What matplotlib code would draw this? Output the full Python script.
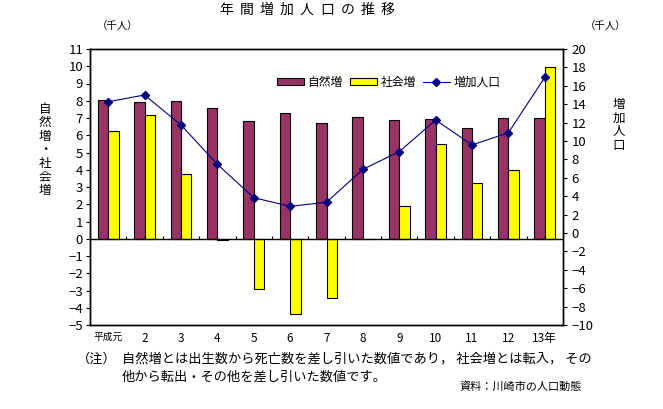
import numpy as np
import matplotlib
matplotlib.use("Agg")
from matplotlib import pyplot as plt
from matplotlib.patches import Patch
from matplotlib.lines import Line2D

plt.rcParams["font.family"] = ["Noto Sans CJK JP", "DejaVu Sans"]

# データ（千人）
years = ["平成元", "2", "3", "4", "5", "6", "7", "8", "9", "10", "11", "12", "13年"]
natural = [8.04, 7.93, 7.99, 7.58, 6.81, 7.27, 6.70, 7.06, 6.90, 6.92, 6.40, 6.98, 7.00]  # 自然増
social = [6.23, 7.17, 3.74, -0.08, -2.91, -4.34, -3.43, 0.0, 1.89, 5.48, 3.22, 3.98, 9.94]  # 社会増
total = [14.27, 15.00, 11.74, 7.47, 3.84, 2.90, 3.34, 6.92, 8.84, 12.28, 9.57, 10.90, 16.92]  # 増加人口

c_nat = "#993366"
c_soc = "#ffff00"
c_line = "#000080"

fig = plt.figure(figsize=(6.63, 4.09), dpi=100)
ax = fig.add_axes([90 / 663, 1 - 325 / 409, 473 / 663, 276 / 409])
ax2 = ax.twinx()

x = np.arange(len(years)) + 0.5
w = 0.286
ax.bar(x - w / 2, natural, w, color=c_nat, edgecolor="black", linewidth=0.8, zorder=2)
ax.bar(x + w / 2, social, w, color=c_soc, edgecolor="black", linewidth=0.8, zorder=2)

# 0 の軸線と区切り目盛り
ax.axhline(0, color="black", linewidth=1.0, zorder=3)
ax.vlines(np.arange(1, len(years)), 0, 0.15, color="black", linewidth=0.8, zorder=3)

ax.set_xlim(0, len(years))
ax.set_ylim(-5, 11)
ax.set_yticks(range(-5, 12))
ax.set_xticks(x)
ax.set_xticklabels(years)
ax.tick_params(axis="x", length=0, pad=5, labelsize=8.5)
ax.get_xticklabels()[0].set_fontsize(7)
ax.tick_params(axis="y", direction="out", length=3, width=0.8, pad=2, labelsize=9.5)

ax2.plot(x, total, "-", color=c_line, linewidth=0.8, marker="D", markersize=4.5, zorder=4)
ax2.set_ylim(-10, 20)
ax2.set_yticks(range(-10, 21, 2))
ax2.tick_params(axis="y", direction="out", length=3, width=0.8, pad=3, labelsize=9.5)

for a in (ax, ax2):
    for s in a.spines.values():
        s.set_linewidth(1.0)

# 凡例
handles = [
    Patch(facecolor=c_nat, edgecolor="black", linewidth=0.8),
    Patch(facecolor=c_soc, edgecolor="black", linewidth=0.8),
    Line2D([], [], color=c_line, linewidth=0.8, marker="D", markersize=4),
]
ax.legend(handles, ["自然増", "社会増", "増加人口"], ncol=3, loc="center left",
          bbox_to_anchor=(0.395, 0.88), frameon=False, fontsize=8.5,
          handlelength=2.3, handleheight=0.55, handletextpad=0.3,
          columnspacing=0.6, borderpad=0, borderaxespad=0)

# タイトル（字間を空ける）
title = "年間増加人口の推移"
pitch = 20.2
cx = 307
for i, ch in enumerate(title):
    fig.text((cx + (i - (len(title) - 1) / 2) * pitch) / 663, 1 - 10 / 409, ch,
             ha="center", va="center", fontsize=10)

fig.text(118 / 663, 1 - 27 / 409, "（千人）", ha="center", va="center", fontsize=7.5)
fig.text(606 / 663, 1 - 27 / 409, "（千人）", ha="center", va="center", fontsize=7.5)

fig.text(45 / 663, 1 - 150 / 409, "\n".join("自然増・社会増"), ha="center", va="center",
         fontsize=9, linespacing=1.05)
fig.text(619 / 663, 1 - 125 / 409, "\n".join("増加人口"), ha="center", va="center",
         fontsize=9, linespacing=1.05)

fig.text(77 / 663, 1 - 359 / 409, "（注）", ha="left", va="center", fontsize=9.5)
fig.text(122 / 663, 1 - 359 / 409, "自然増とは出生数から死亡数を差し引いた数値であり， 社会増とは転入， その",
         ha="left", va="center", fontsize=9.5)
fig.text(122 / 663, 1 - 377 / 409, "他から転出・その他を差し引いた数値です。",
         ha="left", va="center", fontsize=9.5)
fig.text(582 / 663, 1 - 387 / 409, "資料：川崎市の人口動態", ha="right", va="center", fontsize=8)

fig.savefig("out.png", dpi=100)
